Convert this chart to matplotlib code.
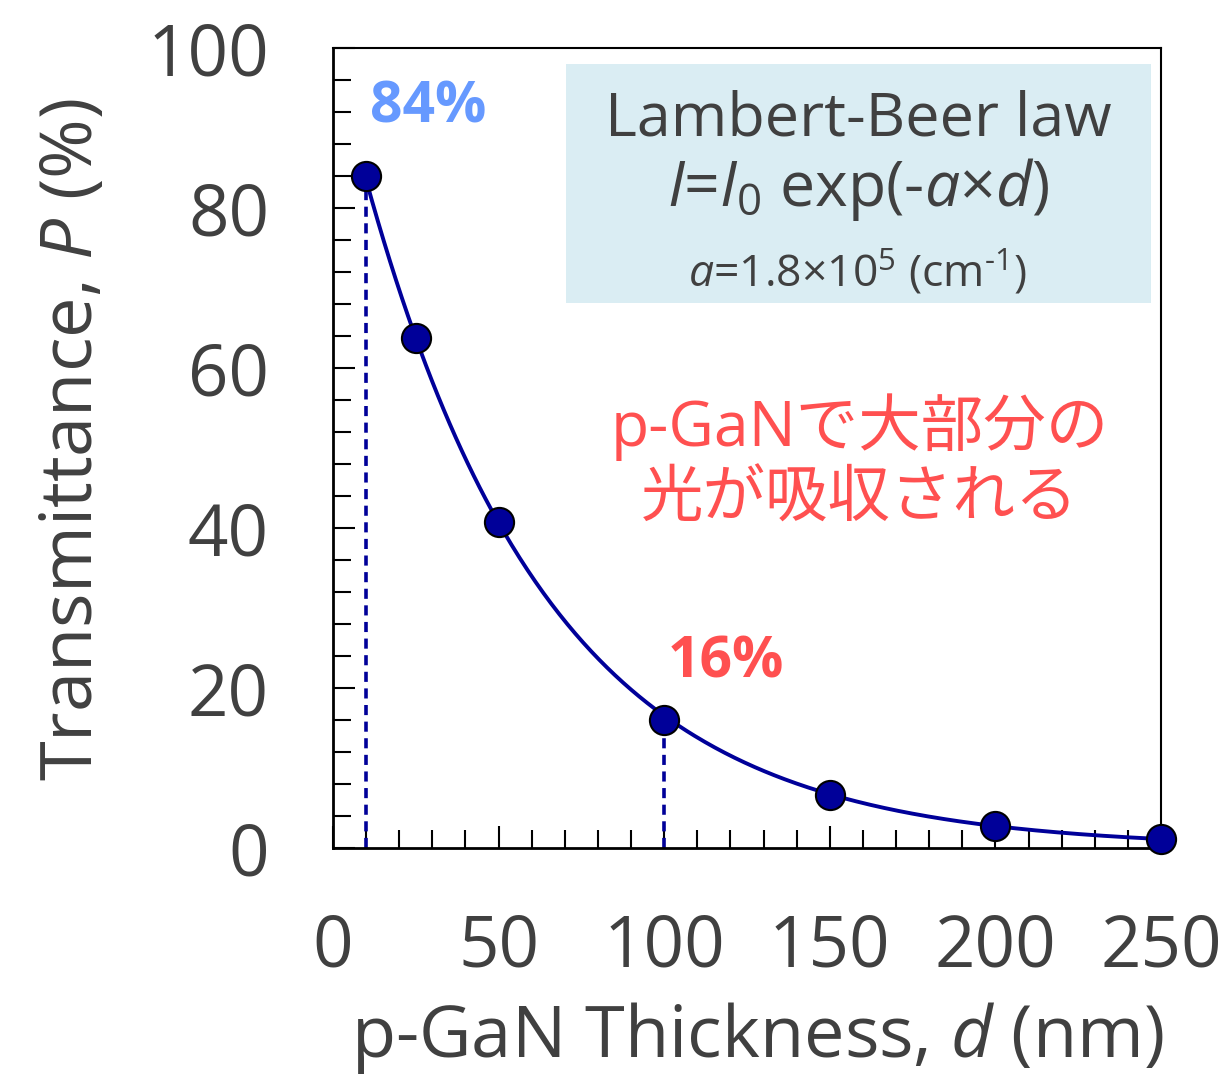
import numpy as np
import matplotlib.pyplot as plt
from matplotlib.patches import Rectangle
from matplotlib.ticker import MultipleLocator

plt.rcParams['font.family'] = ['Open Sans', 'Noto Sans CJK JP', 'DejaVu Sans']
plt.rcParams['mathtext.fontset'] = 'custom'
plt.rcParams['mathtext.rm'] = 'Open Sans'
plt.rcParams['mathtext.it'] = 'Open Sans:italic'

GRAY = '#404040'
NAVY = '#000099'

# measured transmittance vs p-GaN thickness
thickness = [10, 25, 50, 100, 150, 200, 250]
transmit = [84, 63.8, 40.7, 16, 6.6, 2.7, 1.1]

# absorption coefficient, cm^-1 (1 cm = 1e7 nm)
alpha_cm = 1.8e5
marked = [(10, 84, '84%', '#6699ff', (28.7, 92.6)),
          (100, 16, '16%', '#ff5050', (118.7, 23.2))]

fig = plt.figure(figsize=(12.21, 10.86), dpi=100)
ax = fig.add_axes([0.2727, 0.2192, 0.6782, 0.7366])

d = np.linspace(thickness[0], thickness[-1], 400)
ax.plot(d, 100 * np.exp(-alpha_cm * 1e-7 * d), color=NAVY, lw=2.8, zorder=3)
ax.plot(thickness, transmit, 'o', ms=21, mfc=NAVY, mec='black', mew=1.5,
        zorder=5, clip_on=False)

for x, y, txt, col, pos in marked:
    ax.plot([x, x], [0, y], ls=(0, (2.8, 1.8)), color=NAVY, lw=2.6, zorder=2)
    ax.text(pos[0], pos[1], txt, color=col, fontsize=41, fontweight='bold',
            ha='center', va='center')

# formula box
ax.add_patch(Rectangle((70.3, 68.1), 176.7, 29.9, facecolor='#daedf3',
                       edgecolor='none', zorder=1))
ax.text(158.5, 91, 'Lambert-Beer law', color=GRAY, fontsize=44,
        ha='center', va='center', zorder=4)
ax.text(158.5, 82.3, r'$I$=$I_0$ exp(-$a$×$d$)', color=GRAY, fontsize=45,
        ha='center', va='center', zorder=4)
ax.text(158.5, 71.8, r'$a$=1.8×10$^5$ (cm$^{\text{-1}}$)', color=GRAY, fontsize=32,
        ha='center', va='center', zorder=4)

ax.text(159, 52.6, 'p-GaNで大部分の', color='#ff5050', fontsize=45,
        ha='center', va='center')
ax.text(159, 43.5, '光が吸収される', color='#ff5050', fontsize=45,
        ha='center', va='center')

ax.set_xlim(0, 250)
ax.set_ylim(0, 100)
ax.xaxis.set_major_locator(MultipleLocator(50))
ax.xaxis.set_minor_locator(MultipleLocator(10))
ax.yaxis.set_major_locator(MultipleLocator(20))
ax.yaxis.set_minor_locator(MultipleLocator(4))
ax.tick_params(which='both', direction='in', top=False, right=False,
               width=1.5, colors='black', labelcolor=GRAY, labelsize=51)
ax.tick_params(which='major', length=16, pad=46)
ax.tick_params(which='minor', length=13)
for s in ax.spines.values():
    s.set_linewidth(1.5)
ax.spines['bottom'].set_linewidth(2)
ax.spines['left'].set_linewidth(2)

ax.set_xlabel(r'p-GaN Thickness, $d$ (nm)', color=GRAY, fontsize=52)
ax.set_ylabel(r'Transmittance, $P$ (%)', color=GRAY, fontsize=52)
ax.xaxis.set_label_coords(0.512, -0.19)
ax.yaxis.set_label_coords(-0.27, 0.51)

fig.savefig('out.png', dpi=100)
